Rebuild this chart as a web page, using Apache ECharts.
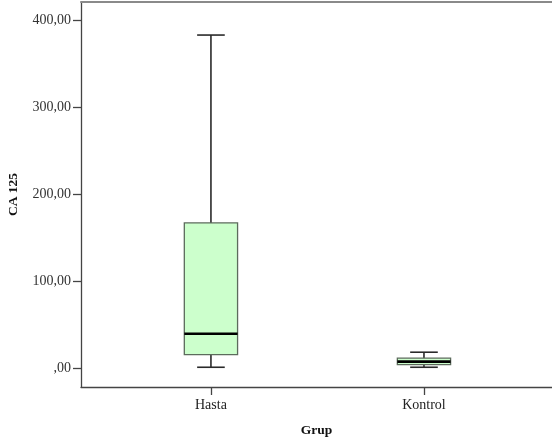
<!DOCTYPE html>
<html>
<head>
<meta charset="utf-8">
<script src="https://cdn.jsdelivr.net/npm/echarts@6/dist/echarts.min.js"></script>
<style>
html, body { margin: 0; padding: 0; background: #fff; }
#chart { width: 552px; height: 443px; }
</style>
</head>
<body>
<div id="chart"></div>
<script>
// gruplar ve kutu istatistikleri: [min, Q1, medyan, Q3, max]
var categories = ['Hasta', 'Kontrol'];
var hastaBox = [1.5, 16, 40, 167.5, 383.5];
var kontrolBox = [1.5, 4.6, 8, 11.9, 18.8];
var yTicks = [0, 100, 200, 300, 400];

var boxes = [hastaBox, kontrolBox];
var seriesData = boxes.map(function (b, i) {
    return [i + 1].concat(b);
});

function fmtY(v) {
    if (v === 0) return ',00';
    return v.toFixed(2).replace('.', ',');
}

var myChart = echarts.init(document.getElementById('chart'));

var fontFam = '"Liberation Serif", "DejaVu Serif", serif';

var option = {
    animation: false,
    backgroundColor: '#fff',
    grid: { left: 81, right: 0, top: 2, bottom: 56, outerBoundsMode: 'none', containLabel: false },
    xAxis: [
        {
            type: 'value',
            min: 0.39,
            max: 2.601,
            name: 'Grup',
            nameLocation: 'middle',
            nameGap: 37,
            nameTextStyle: { fontFamily: fontFam, fontWeight: 'bold', fontSize: 13.5, color: '#111' },
            axisLine: { show: true, onZero: false, lineStyle: { color: '#444', width: 1.3 } },
            axisTick: { show: true, length: 8, customValues: [1, 2], lineStyle: { color: '#444', width: 1.3 } },
            axisLabel: {
                customValues: [1, 2],
                margin: 11,
                fontFamily: fontFam,
                fontSize: 14,
                color: '#222',
                formatter: function (v) { return categories[Math.round(v) - 1]; }
            },
            splitLine: { show: false }
        },
        {
            // üst çerçeve çizgisi
            type: 'value',
            position: 'top',
            min: 0.39,
            max: 2.601,
            axisLine: { show: true, onZero: false, lineStyle: { color: '#8a8a8a', width: 2 } },
            axisTick: { show: false },
            axisLabel: { show: false },
            splitLine: { show: false }
        }
    ],
    yAxis: {
        type: 'value',
        min: -21.2,
        max: 421.5,
        name: 'CA 125',
        nameLocation: 'middle',
        nameRotate: 90,
        nameGap: 60,
        nameTextStyle: { fontFamily: fontFam, fontWeight: 'bold', fontSize: 13.5, color: '#111' },
        axisLine: { show: true, onZero: false, lineStyle: { color: '#444', width: 1.3 } },
        axisTick: { show: true, length: 8, customValues: yTicks, lineStyle: { color: '#444', width: 1.3 } },
        axisLabel: {
            customValues: yTicks,
            margin: 10,
            fontFamily: fontFam,
            fontSize: 14,
            color: '#333',
            formatter: fmtY
        },
        splitLine: { show: false }
    },
    series: [
        {
            type: 'custom',
            xAxisIndex: 0,
            data: seriesData,
            renderItem: function (params, api) {
                var x = api.value(0);
                var mn = api.coord([x, api.value(1)]);
                var q1 = api.coord([x, api.value(2)]);
                var md = api.coord([x, api.value(3)]);
                var q3 = api.coord([x, api.value(4)]);
                var mx = api.coord([x, api.value(5)]);
                var bw = api.size([1, 0])[0] * 0.25;
                var cw = bw / 2;
                var cx = mn[0];
                var stroke = { stroke: '#2a2a2a', lineWidth: 1.6 };
                return {
                    type: 'group',
                    children: [
                        { type: 'line', shape: { x1: cx, y1: mx[1], x2: cx, y2: q3[1] }, style: stroke },
                        { type: 'line', shape: { x1: cx, y1: q1[1], x2: cx, y2: mn[1] }, style: stroke },
                        { type: 'line', shape: { x1: cx - cw / 2 - 0.5, y1: mx[1], x2: cx + cw / 2 + 0.5, y2: mx[1] }, style: stroke },
                        { type: 'line', shape: { x1: cx - cw / 2 - 0.5, y1: mn[1], x2: cx + cw / 2 + 0.5, y2: mn[1] }, style: stroke },
                        {
                            type: 'rect',
                            shape: { x: cx - bw / 2, y: q3[1], width: bw, height: q1[1] - q3[1] },
                            style: { fill: '#ccffcc', stroke: '#5c6b5c', lineWidth: 1.3 }
                        },
                        { type: 'line', shape: { x1: cx - bw / 2, y1: md[1], x2: cx + bw / 2, y2: md[1] }, style: { stroke: '#000', lineWidth: 2.6 } }
                    ]
                };
            }
        }
    ]
};

myChart.setOption(option);
</script>
</body>
</html>
